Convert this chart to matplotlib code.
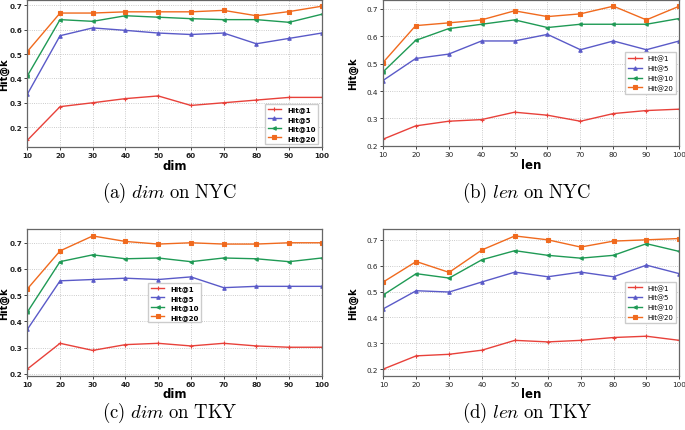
import matplotlib.pyplot as plt

plt.rcParams["mathtext.fontset"] = "cm"

# x values
x_vals = [10, 20, 30, 40, 50, 60, 70, 80, 90, 100]

# (a) dim on NYC
a_hit1 = [0.146, 0.284, 0.300, 0.317, 0.328, 0.289, 0.300, 0.311, 0.322, 0.322]
a_hit5 = [0.335, 0.575, 0.607, 0.597, 0.586, 0.580, 0.586, 0.542, 0.564, 0.586]
a_hit10 = [0.410, 0.641, 0.634, 0.657, 0.651, 0.645, 0.641, 0.641, 0.630, 0.663]
a_hit20 = [0.510, 0.668, 0.668, 0.673, 0.673, 0.673, 0.679, 0.657, 0.674, 0.696]

# (b) len on NYC
b_hit1 = [0.224, 0.273, 0.290, 0.296, 0.323, 0.312, 0.290, 0.318, 0.329, 0.334]
b_hit5 = [0.438, 0.519, 0.535, 0.583, 0.583, 0.607, 0.551, 0.583, 0.551, 0.583]
b_hit10 = [0.469, 0.585, 0.628, 0.644, 0.660, 0.632, 0.644, 0.644, 0.644, 0.665]
b_hit20 = [0.503, 0.639, 0.649, 0.660, 0.693, 0.672, 0.682, 0.710, 0.660, 0.710]

# (c) dim on TKY
c_hit1 = [0.218, 0.316, 0.289, 0.311, 0.316, 0.306, 0.316, 0.306, 0.301, 0.301]
c_hit5 = [0.369, 0.554, 0.559, 0.564, 0.559, 0.569, 0.528, 0.533, 0.533, 0.533]
c_hit10 = [0.435, 0.627, 0.653, 0.638, 0.641, 0.627, 0.641, 0.638, 0.627, 0.641]
c_hit20 = [0.523, 0.668, 0.725, 0.704, 0.694, 0.699, 0.694, 0.694, 0.699, 0.699]

# (d) len on TKY
d_hit1 = [0.200, 0.251, 0.257, 0.273, 0.311, 0.305, 0.311, 0.322, 0.327, 0.311]
d_hit5 = [0.433, 0.503, 0.498, 0.537, 0.575, 0.557, 0.575, 0.557, 0.602, 0.569]
d_hit10 = [0.487, 0.569, 0.552, 0.623, 0.658, 0.640, 0.629, 0.640, 0.685, 0.655]
d_hit20 = [0.537, 0.616, 0.574, 0.661, 0.715, 0.700, 0.672, 0.695, 0.700, 0.705]

series_labels = ["Hit@1", "Hit@5", "Hit@10", "Hit@20"]
colors = ["#e8413a", "#5a5ac8", "#1f9a55", "#f06a1e"]
markers = ["+", "^", "<", "s"]

panels = [
    # data, axes rect, xlabel, caption, bold, legend loc, ylabel right edge (px)
    ([a_hit1, a_hit5, a_hit10, a_hit20], [0.0399, 0.6566, 0.4298, 0.3422], "dim",
     r"$\mathrm{(a)\ }\mathit{dim}\mathrm{\ on\ NYC}$", True, "lower right", 9),
    ([b_hit1, b_hit5, b_hit10, b_hit20], [0.5587, 0.659, 0.4330, 0.3398], "len",
     r"$\mathrm{(b)\ }\mathit{len}\mathrm{\ on\ NYC}$", False, "center right", 358),
    ([c_hit1, c_hit5, c_hit10, c_hit20], [0.0399, 0.126, 0.4298, 0.3397], "dim",
     r"$\mathrm{(c)\ }\mathit{dim}\mathrm{\ on\ TKY}$", True, "center", 9),
    ([d_hit1, d_hit5, d_hit10, d_hit20], [0.5596, 0.126, 0.4321, 0.3397], "len",
     r"$\mathrm{(d)\ }\mathit{len}\mathrm{\ on\ TKY}$", False, "center right", 358),
]
caption_pos = [(170 / 685, 1 - 193 / 431), (527 / 685, 1 - 193 / 431),
               (170 / 685, 1 - 413 / 431), (527 / 685, 1 - 413 / 431)]

fig = plt.figure(figsize=(6.85, 4.31), dpi=100)

for (data, rect, xlab, cap, bold, loc, ylx), (cx, cy) in zip(panels, caption_pos):
    ax = fig.add_axes(rect)
    weight = "bold" if bold else "normal"
    for vals, lab, col, mk in zip(data, series_labels, colors, markers):
        ax.plot(x_vals, vals, color=col, marker=mk, markersize=2.5,
                markeredgewidth=0.8, linewidth=1.0, label=lab)
    ax.set_xlim(10, 100)
    ax.set_xticks(x_vals)
    ax.grid(True, linestyle=":", linewidth=0.6, color="#bbbbbb")
    ax.tick_params(labelsize=5.2, length=2, width=0.6, pad=1.5, colors="#222222")
    for lbl in ax.get_xticklabels() + ax.get_yticklabels():
        lbl.set_fontweight(weight)
    for sp in ax.spines.values():
        sp.set_color("#666666")
        sp.set_linewidth(0.9)
    ax.set_xlabel(xlab, fontsize=8.5, fontweight="bold", labelpad=0.5)
    ax.set_ylabel("Hit@k", fontsize=7, fontweight="bold")
    ax.yaxis.set_label_coords((ylx - rect[0] * 685) / (rect[2] * 685), 0.5)
    ax.legend(loc=loc, prop={"size": 5, "weight": weight},
              borderaxespad=0.5, labelspacing=0.5, handlelength=2.0,
              fancybox=False, edgecolor="#cccccc", framealpha=1.0)
    fig.text(cx, cy, cap, fontsize=13.5, ha="center", va="center")

plt.savefig("out.png", dpi=100)
